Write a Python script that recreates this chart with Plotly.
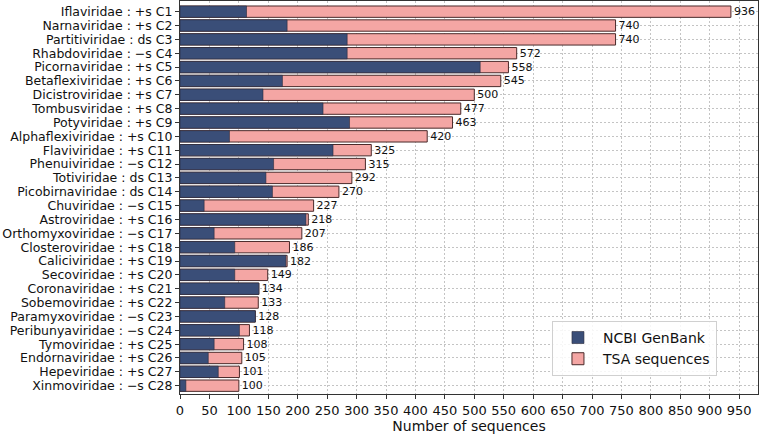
import plotly.graph_objects as go

families = ["Iflaviridae : +s C1", "Narnaviridae : +s C2", "Partitiviridae : ds C3",
            "Rhabdoviridae : \u2212s C4", "Picornaviridae : +s C5", "Betaflexiviridae : +s C6",
            "Dicistroviridae : +s C7", "Tombusviridae : +s C8", "Potyviridae : +s C9",
            "Alphaflexiviridae : +s C10", "Flaviviridae : +s C11", "Phenuiviridae : \u2212s C12",
            "Totiviridae : ds C13", "Picobirnaviridae : ds C14", "Chuviridae : \u2212s C15",
            "Astroviridae : +s C16", "Orthomyxoviridae : \u2212s C17", "Closteroviridae : +s C18",
            "Caliciviridae : +s C19", "Secoviridae : +s C20", "Coronaviridae : +s C21",
            "Sobemoviridae : +s C22", "Paramyxoviridae : \u2212s C23", "Peribunyaviridae : \u2212s C24",
            "Tymoviridae : +s C25", "Endornaviridae : +s C26", "Hepeviridae : +s C27",
            "Xinmoviridae : \u2212s C28"]

totals = [936, 740, 740, 572, 558, 545, 500, 477, 463, 420, 325, 315, 292, 270,
          227, 218, 207, 186, 182, 149, 134, 133, 128, 118, 108, 105, 101, 100]

ncbi = [113, 182, 284, 284, 510, 174, 141, 243, 288, 84, 260, 159, 146, 157,
        41, 214, 58, 93, 180, 93, 134, 76, 128, 101, 58, 48, 65, 10]

x_ticks = list(range(0, 951, 50))

DARK = "#3a4e78"
PINK = "#f4a6a4"
FONT = "DejaVu Sans"

fig = go.Figure()
fig.add_trace(go.Bar(
    y=families, x=totals, orientation="h", name="TSA sequences",
    marker=dict(color=PINK, line=dict(color="#4a2a2a", width=1)),
    width=0.82, text=[str(v) for v in totals], textposition="outside",
    constraintext="none",
    textfont=dict(family=FONT, size=11, color="#111111"), cliponaxis=False,
))
fig.add_trace(go.Bar(
    y=families, x=ncbi, orientation="h", name="NCBI GenBank",
    marker=dict(color=DARK, line=dict(color="#2a2a3a", width=0.6)),
    width=0.82,
))

fig.update_layout(
    width=760, height=434,
    margin=dict(l=180, r=2, t=1, b=40),
    barmode="overlay",
    plot_bgcolor="white", paper_bgcolor="white",
    font=dict(family=FONT, color="#111111"),
    showlegend=True,
    legend=dict(
        traceorder="reversed",
        x=0.929, y=0.046, xanchor="right", yanchor="bottom",
        bgcolor="rgba(255,255,255,0.85)", bordercolor="#d0d0d0", borderwidth=1,
        font=dict(family=FONT, size=14, color="#111111"),
        itemwidth=40, tracegroupgap=4,
    ),
)

fig.update_xaxes(
    range=[0, 982], tickmode="array", tickvals=x_ticks,
    ticks="outside", ticklen=4, tickcolor="#333333",
    tickfont=dict(family=FONT, size=13, color="#111111"),
    showline=True, linecolor="#333333", linewidth=1, mirror=True,
    showgrid=True, gridcolor="#c4c4c4", griddash="2px,2px", gridwidth=0.8,
    zeroline=False, automargin=False,
    title=dict(text="Number of sequences", font=dict(family=FONT, size=14, color="#111111"),
               standoff=4),
)
fig.update_yaxes(
    type="category", categoryorder="array", categoryarray=families,
    tickmode="array", tickvals=families, ticktext=families,
    range=[27.6, -0.77],
    ticks="outside", ticklen=4, tickcolor="#333333",
    tickfont=dict(family=FONT, size=12.5, color="#111111"),
    showline=True, linecolor="#333333", linewidth=1, mirror=True,
    showgrid=True, gridcolor="#c4c4c4", griddash="2px,2px", gridwidth=0.8,
    automargin=False,
)

fig.write_html(
    "out.html",
    config={"displayModeBar": False},
    post_script="document.body.style.margin='0';document.body.style.overflow='hidden';",
)
